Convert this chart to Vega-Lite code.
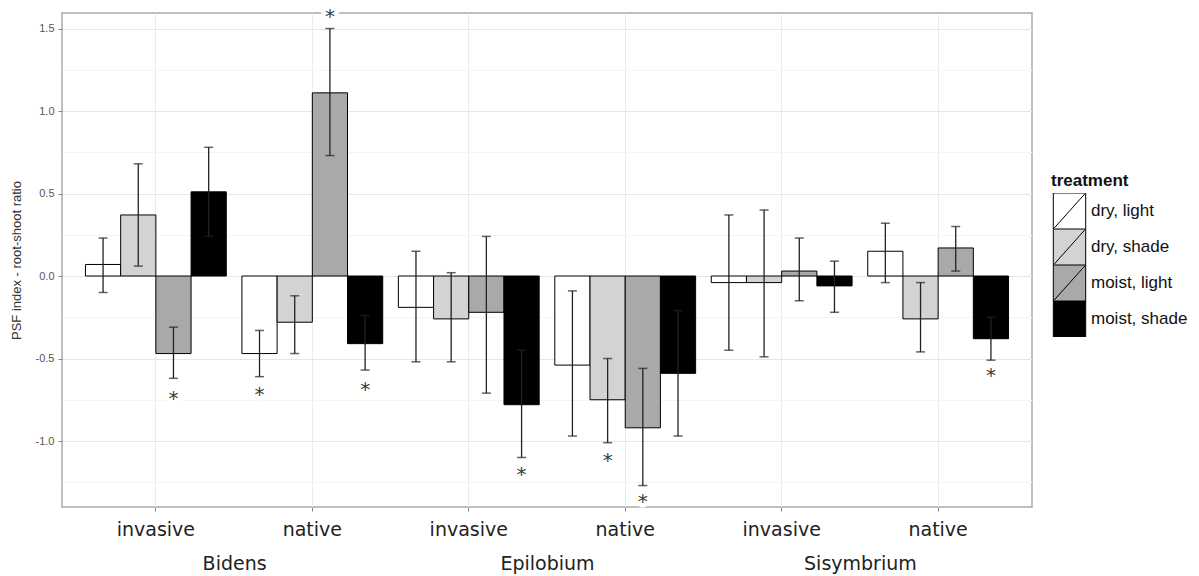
{
  "$schema": "https://vega.github.io/schema/vega-lite/v6.json",
  "width": 970,
  "height": 494,
  "autosize": "none",
  "padding": {"left": 62, "top": 13, "right": 167, "bottom": 69},
  "background": "white",
  "config": {
    "view": {"stroke": "#aaaaaa", "strokeWidth": 1.5},
    "axis": {"domain": false, "gridColor": "#ebebeb", "gridWidth": 1, "tickColor": "#888888"}
  },
  "datasets": {
    "bars": [
      {"group": "Bidens|invasive", "treatment": "dry, light", "mean": 0.07, "lo": -0.10, "hi": 0.23},
      {"group": "Bidens|invasive", "treatment": "dry, shade", "mean": 0.37, "lo": 0.06, "hi": 0.68},
      {"group": "Bidens|invasive", "treatment": "moist, light", "mean": -0.47, "lo": -0.62, "hi": -0.31},
      {"group": "Bidens|invasive", "treatment": "moist, shade", "mean": 0.51, "lo": 0.24, "hi": 0.78},
      {"group": "Bidens|native", "treatment": "dry, light", "mean": -0.47, "lo": -0.61, "hi": -0.33},
      {"group": "Bidens|native", "treatment": "dry, shade", "mean": -0.28, "lo": -0.47, "hi": -0.12},
      {"group": "Bidens|native", "treatment": "moist, light", "mean": 1.11, "lo": 0.73, "hi": 1.50},
      {"group": "Bidens|native", "treatment": "moist, shade", "mean": -0.41, "lo": -0.57, "hi": -0.24},
      {"group": "Epilobium|invasive", "treatment": "dry, light", "mean": -0.19, "lo": -0.52, "hi": 0.15},
      {"group": "Epilobium|invasive", "treatment": "dry, shade", "mean": -0.26, "lo": -0.52, "hi": 0.02},
      {"group": "Epilobium|invasive", "treatment": "moist, light", "mean": -0.22, "lo": -0.71, "hi": 0.24},
      {"group": "Epilobium|invasive", "treatment": "moist, shade", "mean": -0.78, "lo": -1.10, "hi": -0.45},
      {"group": "Epilobium|native", "treatment": "dry, light", "mean": -0.54, "lo": -0.97, "hi": -0.09},
      {"group": "Epilobium|native", "treatment": "dry, shade", "mean": -0.75, "lo": -1.01, "hi": -0.50},
      {"group": "Epilobium|native", "treatment": "moist, light", "mean": -0.92, "lo": -1.27, "hi": -0.56},
      {"group": "Epilobium|native", "treatment": "moist, shade", "mean": -0.59, "lo": -0.97, "hi": -0.21},
      {"group": "Sisymbrium|invasive", "treatment": "dry, light", "mean": -0.04, "lo": -0.45, "hi": 0.37},
      {"group": "Sisymbrium|invasive", "treatment": "dry, shade", "mean": -0.04, "lo": -0.49, "hi": 0.40},
      {"group": "Sisymbrium|invasive", "treatment": "moist, light", "mean": 0.03, "lo": -0.15, "hi": 0.23},
      {"group": "Sisymbrium|invasive", "treatment": "moist, shade", "mean": -0.06, "lo": -0.22, "hi": 0.09},
      {"group": "Sisymbrium|native", "treatment": "dry, light", "mean": 0.15, "lo": -0.04, "hi": 0.32},
      {"group": "Sisymbrium|native", "treatment": "dry, shade", "mean": -0.26, "lo": -0.46, "hi": -0.04},
      {"group": "Sisymbrium|native", "treatment": "moist, light", "mean": 0.17, "lo": 0.03, "hi": 0.30},
      {"group": "Sisymbrium|native", "treatment": "moist, shade", "mean": -0.38, "lo": -0.51, "hi": -0.25}
    ],
    "stars": [
      {"group": "Bidens|invasive", "treatment": "moist, light", "pos": -0.73},
      {"group": "Bidens|native", "treatment": "dry, light", "pos": -0.70},
      {"group": "Bidens|native", "treatment": "moist, light", "pos": 1.59},
      {"group": "Bidens|native", "treatment": "moist, shade", "pos": -0.67},
      {"group": "Epilobium|invasive", "treatment": "moist, shade", "pos": -1.19},
      {"group": "Epilobium|native", "treatment": "dry, shade", "pos": -1.10},
      {"group": "Epilobium|native", "treatment": "moist, light", "pos": -1.35},
      {"group": "Sisymbrium|native", "treatment": "moist, shade", "pos": -0.59}
    ],
    "species": [
      {"species": "Bidens"},
      {"species": "Epilobium"},
      {"species": "Sisymbrium"}
    ]
  },
  "layer": [
    {
      "encoding": {
        "x": {
          "field": "group",
          "type": "nominal",
          "title": null,
          "scale": {
            "domain": ["Bidens|invasive", "Bidens|native", "Epilobium|invasive", "Epilobium|native", "Sisymbrium|invasive", "Sisymbrium|native"],
            "paddingInner": 0.1,
            "paddingOuter": 0.15
          },
          "axis": {
            "orient": "bottom",
            "bandPosition": 0.5,
            "grid": true,
            "gridColor": "#ebebeb",
            "labelExpr": "split(datum.label, '|')[1]",
            "labelAngle": 0,
            "labelFont": "DejaVu Sans",
            "labelFontSize": 19,
            "labelColor": "#222222",
            "labelPadding": 9,
            "tickSize": 4,
            "tickColor": "#888888"
          }
        },
        "xOffset": {
          "field": "treatment",
          "type": "nominal",
          "scale": {"domain": ["dry, light", "dry, shade", "moist, light", "moist, shade"], "paddingInner": 0, "paddingOuter": 0}
        }
      },
      "layer": [
        {
          "data": {"name": "bars"},
          "mark": {"type": "bar", "stroke": "black", "strokeWidth": 1},
          "encoding": {
            "y": {
              "field": "mean",
              "type": "quantitative",
              "title": "PSF index - root-shoot ratio",
              "scale": {"domain": [-1.4, 1.594], "nice": false, "zero": false},
              "axis": {
                "values": [-1.25, -1, -0.75, -0.5, -0.25, 0, 0.25, 0.5, 0.75, 1, 1.25, 1.5],
                "grid": true,
                "gridColor": {"condition": {"test": "abs(datum.value % 0.5) > 0.01", "value": "#f4f4f4"}, "value": "#e6e6e6"},
                "tickOpacity": {"condition": {"test": "abs(datum.value % 0.5) > 0.01", "value": 0}, "value": 1},
                "labelExpr": "abs(datum.value % 0.5) > 0.01 ? '' : (datum.value < 0 ? '-' : '') + format(abs(datum.value), '.1f')",
                "labelFont": "Liberation Sans",
                "labelFontSize": 11,
                "labelColor": "#555555",
                "labelPadding": 4,
                "tickSize": 4,
                "tickColor": "#888888",
                "titleFont": "Liberation Sans",
                "titleFontSize": 13,
                "titleFontWeight": "normal",
                "titleColor": "#333333",
                "titlePadding": 12
              }
            },
            "y2": {"datum": 0},
            "fill": {
              "field": "treatment",
              "type": "nominal",
              "title": "treatment",
              "scale": {"domain": ["dry, light", "dry, shade", "moist, light", "moist, shade"], "range": ["#ffffff", "#d3d3d3", "#a9a9a9", "#000000"]},
              "legend": {
                "orient": "none",
                "legendX": 989,
                "legendY": 160,
                "symbolType": "M-0.9,-1H0.9V1H-0.9Z M-0.85,0.95L0.85,-0.95",
                "symbolSize": 1296,
                "symbolStrokeColor": "black",
                "symbolStrokeWidth": 1,
                "rowPadding": 0,
                "clipHeight": 36,
                "labelOffset": 3,
                "labelFont": "Liberation Sans",
                "labelFontSize": 17,
                "labelColor": "#111111",
                "titleFont": "Liberation Sans",
                "titleFontSize": 17,
                "titleFontWeight": "bold",
                "titleColor": "#111111",
                "titlePadding": 3
              }
            }
          }
        },
        {
          "data": {"name": "bars"},
          "mark": {"type": "rule", "color": "#222222", "strokeWidth": 1.3},
          "encoding": {
            "y": {"field": "lo", "type": "quantitative"},
            "y2": {"field": "hi"}
          }
        },
        {
          "data": {"name": "bars"},
          "mark": {"type": "tick", "color": "#222222", "thickness": 1.5, "size": 9, "orient": "horizontal"},
          "encoding": {
            "y": {"field": "lo", "type": "quantitative"}
          }
        },
        {
          "data": {"name": "bars"},
          "mark": {"type": "tick", "color": "#222222", "thickness": 1.5, "size": 9, "orient": "horizontal"},
          "encoding": {
            "y": {"field": "hi", "type": "quantitative"}
          }
        },
        {
          "data": {"name": "stars"},
          "mark": {"type": "text", "text": "*", "font": "DejaVu Sans", "fontSize": 20, "baseline": "alphabetic", "dy": 9, "stroke": "white", "strokeWidth": 9, "strokeJoin": "round", "fill": "white"},
          "encoding": {
            "y": {"field": "pos", "type": "quantitative"}
          }
        },
        {
          "data": {"name": "stars"},
          "mark": {"type": "text", "text": "*", "font": "DejaVu Sans", "fontSize": 20, "baseline": "alphabetic", "dy": 9, "fill": "#3a3a3a"},
          "encoding": {
            "y": {"field": "pos", "type": "quantitative"}
          }
        }
      ]
    },
    {
      "data": {"name": "species"},
      "mark": {"type": "point", "opacity": 0},
      "encoding": {
        "x": {
          "field": "species",
          "type": "nominal",
          "title": null,
          "scale": {"type": "point", "domain": ["Bidens", "Epilobium", "Sisymbrium"], "padding": 0.55},
          "axis": {
            "orient": "bottom",
            "grid": false,
            "ticks": false,
            "tickSize": 0,
            "labelAngle": 0,
            "labelFont": "DejaVu Sans",
            "labelFontSize": 19,
            "labelColor": "#222222",
            "labelPadding": 47
          }
        }
      }
    }
  ],
  "resolve": {"scale": {"x": "independent"}, "axis": {"x": "independent"}}
}
